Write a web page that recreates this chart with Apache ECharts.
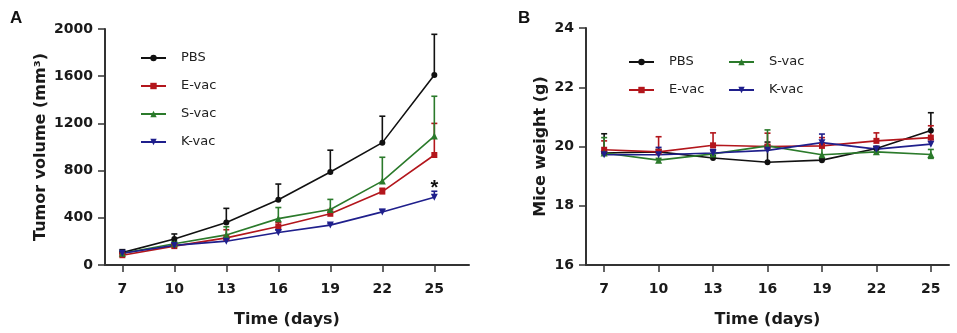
<!DOCTYPE html>
<html>
<head>
<meta charset="utf-8">
<script src="https://cdn.jsdelivr.net/npm/echarts@6/dist/echarts.min.js"></script>
<style>
html,body{margin:0;padding:0;background:#fff;}
#chart{width:957px;height:333px;}
</style>
</head>
<body>
<div id="chart"></div>
<script>
// days of measurement
var days = [7, 10, 13, 16, 19, 22, 25];

// A: tumor volume (mm3), mean and top of error bar
var tumorPBS = [105, 220, 360, 553, 788, 1037, 1610];
var tumorPBSTop = [130, 263, 480, 686, 973, 1261, 1955];
var tumorE = [83, 160, 230, 326, 434, 622, 932];
var tumorETop = [95, 175, 299, 360, 470, 650, 1200];
var tumorS = [100, 180, 255, 393, 470, 711, 1093];
var tumorSTop = [115, 200, 324, 487, 556, 913, 1430];
var tumorK = [100, 166, 202, 276, 338, 450, 575];
var tumorKTop = [110, 180, 215, 295, 350, 470, 625];

// B: mice weight (g)
var weightPBS = [19.78, 19.82, 19.61, 19.47, 19.54, 19.93, 20.54];
var weightPBSTop = [20.43, 19.9, 19.7, 20.15, 19.6, 20.0, 21.14];
var weightE = [19.89, 19.82, 20.04, 20.0, 20.02, 20.19, 20.30];
var weightETop = [20.19, 20.33, 20.46, 20.45, 20.3, 20.46, 20.7];
var weightS = [19.78, 19.54, 19.75, 20.02, 19.72, 19.82, 19.73];
var weightSTop = [20.3, 19.6, 19.85, 20.56, 20.1, 19.9, 19.9];
var weightSLow = [null, null, null, null, null, null, 19.6];
var weightK = [19.72, 19.72, 19.78, 19.87, 20.13, 19.91, 20.08];
var weightKTop = [19.85, 19.97, 19.9, 20.05, 20.42, 20.0, 20.24];

var groups = ['PBS', 'E-vac', 'S-vac', 'K-vac'];
var colors = ['#111111', '#b3161c', '#2b7a2b', '#1f1f8c'];
var symbols = ['circle', 'rect', 'triangle', 'path://M0,0L10,0L5,9Z'];
var symSizes = [6, 6, 7, 7];

var tickFont = {fontFamily: 'DejaVu Sans', fontWeight: 'bold', fontSize: 14, color: '#1a1a1a'};
var nameFont = {fontFamily: 'DejaVu Sans', fontWeight: 'bold', fontSize: 16, color: '#1a1a1a'};

function pairs(ys){
  return days.map(function(d, i){ return [d, ys[i]]; });
}

function errData(ys, tops, lows){
  return days.map(function(d, i){
    var lo = (lows && lows[i] != null) ? lows[i] : ys[i];
    return [d, lo, tops[i]];
  });
}

function errSeries(name, idx, ys, tops, lows){
  var c = colors[groups.indexOf(name)];
  return {
    type: 'custom',
    name: name + ' err',
    xAxisIndex: idx, yAxisIndex: idx,
    z: 1,
    silent: true,
    data: errData(ys, tops, lows),
    renderItem: function(params, api){
      var lo = api.coord([api.value(0), api.value(1)]);
      var hi = api.coord([api.value(0), api.value(2)]);
      var st = {stroke: c, lineWidth: 1.6};
      var kids = [
        {type: 'line', shape: {x1: hi[0], y1: lo[1], x2: hi[0], y2: hi[1]}, style: st},
        {type: 'line', shape: {x1: hi[0] - 3, y1: hi[1], x2: hi[0] + 3, y2: hi[1]}, style: st}
      ];
      if (lows && lows[params.dataIndex] != null){
        kids.push({type: 'line', shape: {x1: lo[0] - 3, y1: lo[1], x2: lo[0] + 3, y2: lo[1]}, style: st});
      }
      return {type: 'group', children: kids};
    }
  };
}

function lineSeries(name, idx, ys){
  var g = groups.indexOf(name);
  return {
    type: 'line',
    name: name,
    xAxisIndex: idx, yAxisIndex: idx,
    z: 3,
    data: pairs(ys),
    symbol: symbols[g],
    symbolSize: symSizes[g],
    showAllSymbol: true,
    color: colors[g],
    lineStyle: {color: colors[g], width: 1.6},
    itemStyle: {color: colors[g]}
  };
}

function xAxis(idx, max){
  return {
    type: 'value', gridIndex: idx, min: 6, max: max,
    name: 'Time (days)', nameLocation: 'middle', nameGap: 47,
    nameTextStyle: nameFont,
    axisLine: {lineStyle: {color: '#333', width: 2}},
    axisTick: {length: 7, lineStyle: {color: '#333', width: 1.5}, customValues: days},
    axisLabel: Object.assign({margin: 17, customValues: days}, tickFont),
    splitLine: {show: false}
  };
}

function yAxis(idx, min, max, interval, name, gap){
  return {
    type: 'value', gridIndex: idx, min: min, max: max, interval: interval,
    name: name, nameLocation: 'middle', nameGap: gap, nameRotate: 90,
    nameTextStyle: nameFont,
    axisLine: {show: true, lineStyle: {color: '#333', width: 2}},
    axisTick: {show: true, length: 7, lineStyle: {color: '#333', width: 1.5}},
    axisLabel: Object.assign({margin: 12, formatter: function(v){ return String(v); }}, tickFont),
    splitLine: {show: false}
  };
}

var legendText = {fontFamily: 'DejaVu Sans', fontSize: 13, color: '#222', lineHeight: 14, padding: [0, 0, 0, 10]};

var chart = echarts.init(document.getElementById('chart'));
var option = {
  backgroundColor: '#fff',
  animation: false,
  grid: [
    {left: 105, right: 488, top: 29, bottom: 63},
    {left: 586, right: 8, top: 28, bottom: 63}
  ],
  xAxis: [xAxis(0, 27), xAxis(1, 26)],
  yAxis: [
    yAxis(0, 0, 2000, 400, 'Tumor volume (mm³)', 56),
    yAxis(1, 16, 24, 2, 'Mice weight (g)', 37)
  ],
  legend: [
    {orient: 'vertical', left: 135, top: 46, itemWidth: 25, itemHeight: 8, itemGap: 14,
     data: groups, textStyle: legendText, selectedMode: false},
    {orient: 'vertical', left: 623, top: 50, itemWidth: 25, itemHeight: 8, itemGap: 14,
     data: ['PBS', 'E-vac'], textStyle: legendText, selectedMode: false},
    {orient: 'vertical', left: 723, top: 50, itemWidth: 25, itemHeight: 8, itemGap: 14,
     data: ['S-vac', 'K-vac'], textStyle: legendText, selectedMode: false}
  ],
  graphic: [
    {type: 'text', left: 10, top: 10, style: {text: 'A', font: 'bold 17px "Liberation Sans"', fill: '#111'}},
    {type: 'text', left: 518, top: 10, style: {text: 'B', font: 'bold 17px "Liberation Sans"', fill: '#111'}}
  ],
  series: [
    errSeries('PBS', 0, tumorPBS, tumorPBSTop),
    errSeries('E-vac', 0, tumorE, tumorETop),
    errSeries('S-vac', 0, tumorS, tumorSTop),
    errSeries('K-vac', 0, tumorK, tumorKTop),
    lineSeries('PBS', 0, tumorPBS),
    lineSeries('E-vac', 0, tumorE),
    lineSeries('S-vac', 0, tumorS),
    Object.assign(lineSeries('K-vac', 0, tumorK), {
      markPoint: {
        symbol: 'circle', symbolSize: 0,
        data: [{coord: [25, 650], value: '*'}],
        label: {show: true, position: 'inside', formatter: '*', fontSize: 20, fontWeight: 'bold', color: '#111', fontFamily: 'Liberation Sans'}
      }
    }),
    errSeries('PBS', 1, weightPBS, weightPBSTop),
    errSeries('E-vac', 1, weightE, weightETop),
    errSeries('S-vac', 1, weightS, weightSTop, weightSLow),
    errSeries('K-vac', 1, weightK, weightKTop),
    lineSeries('PBS', 1, weightPBS),
    lineSeries('E-vac', 1, weightE),
    lineSeries('S-vac', 1, weightS),
    lineSeries('K-vac', 1, weightK)
  ]
};
chart.setOption(option);
</script>
</body>
</html>
